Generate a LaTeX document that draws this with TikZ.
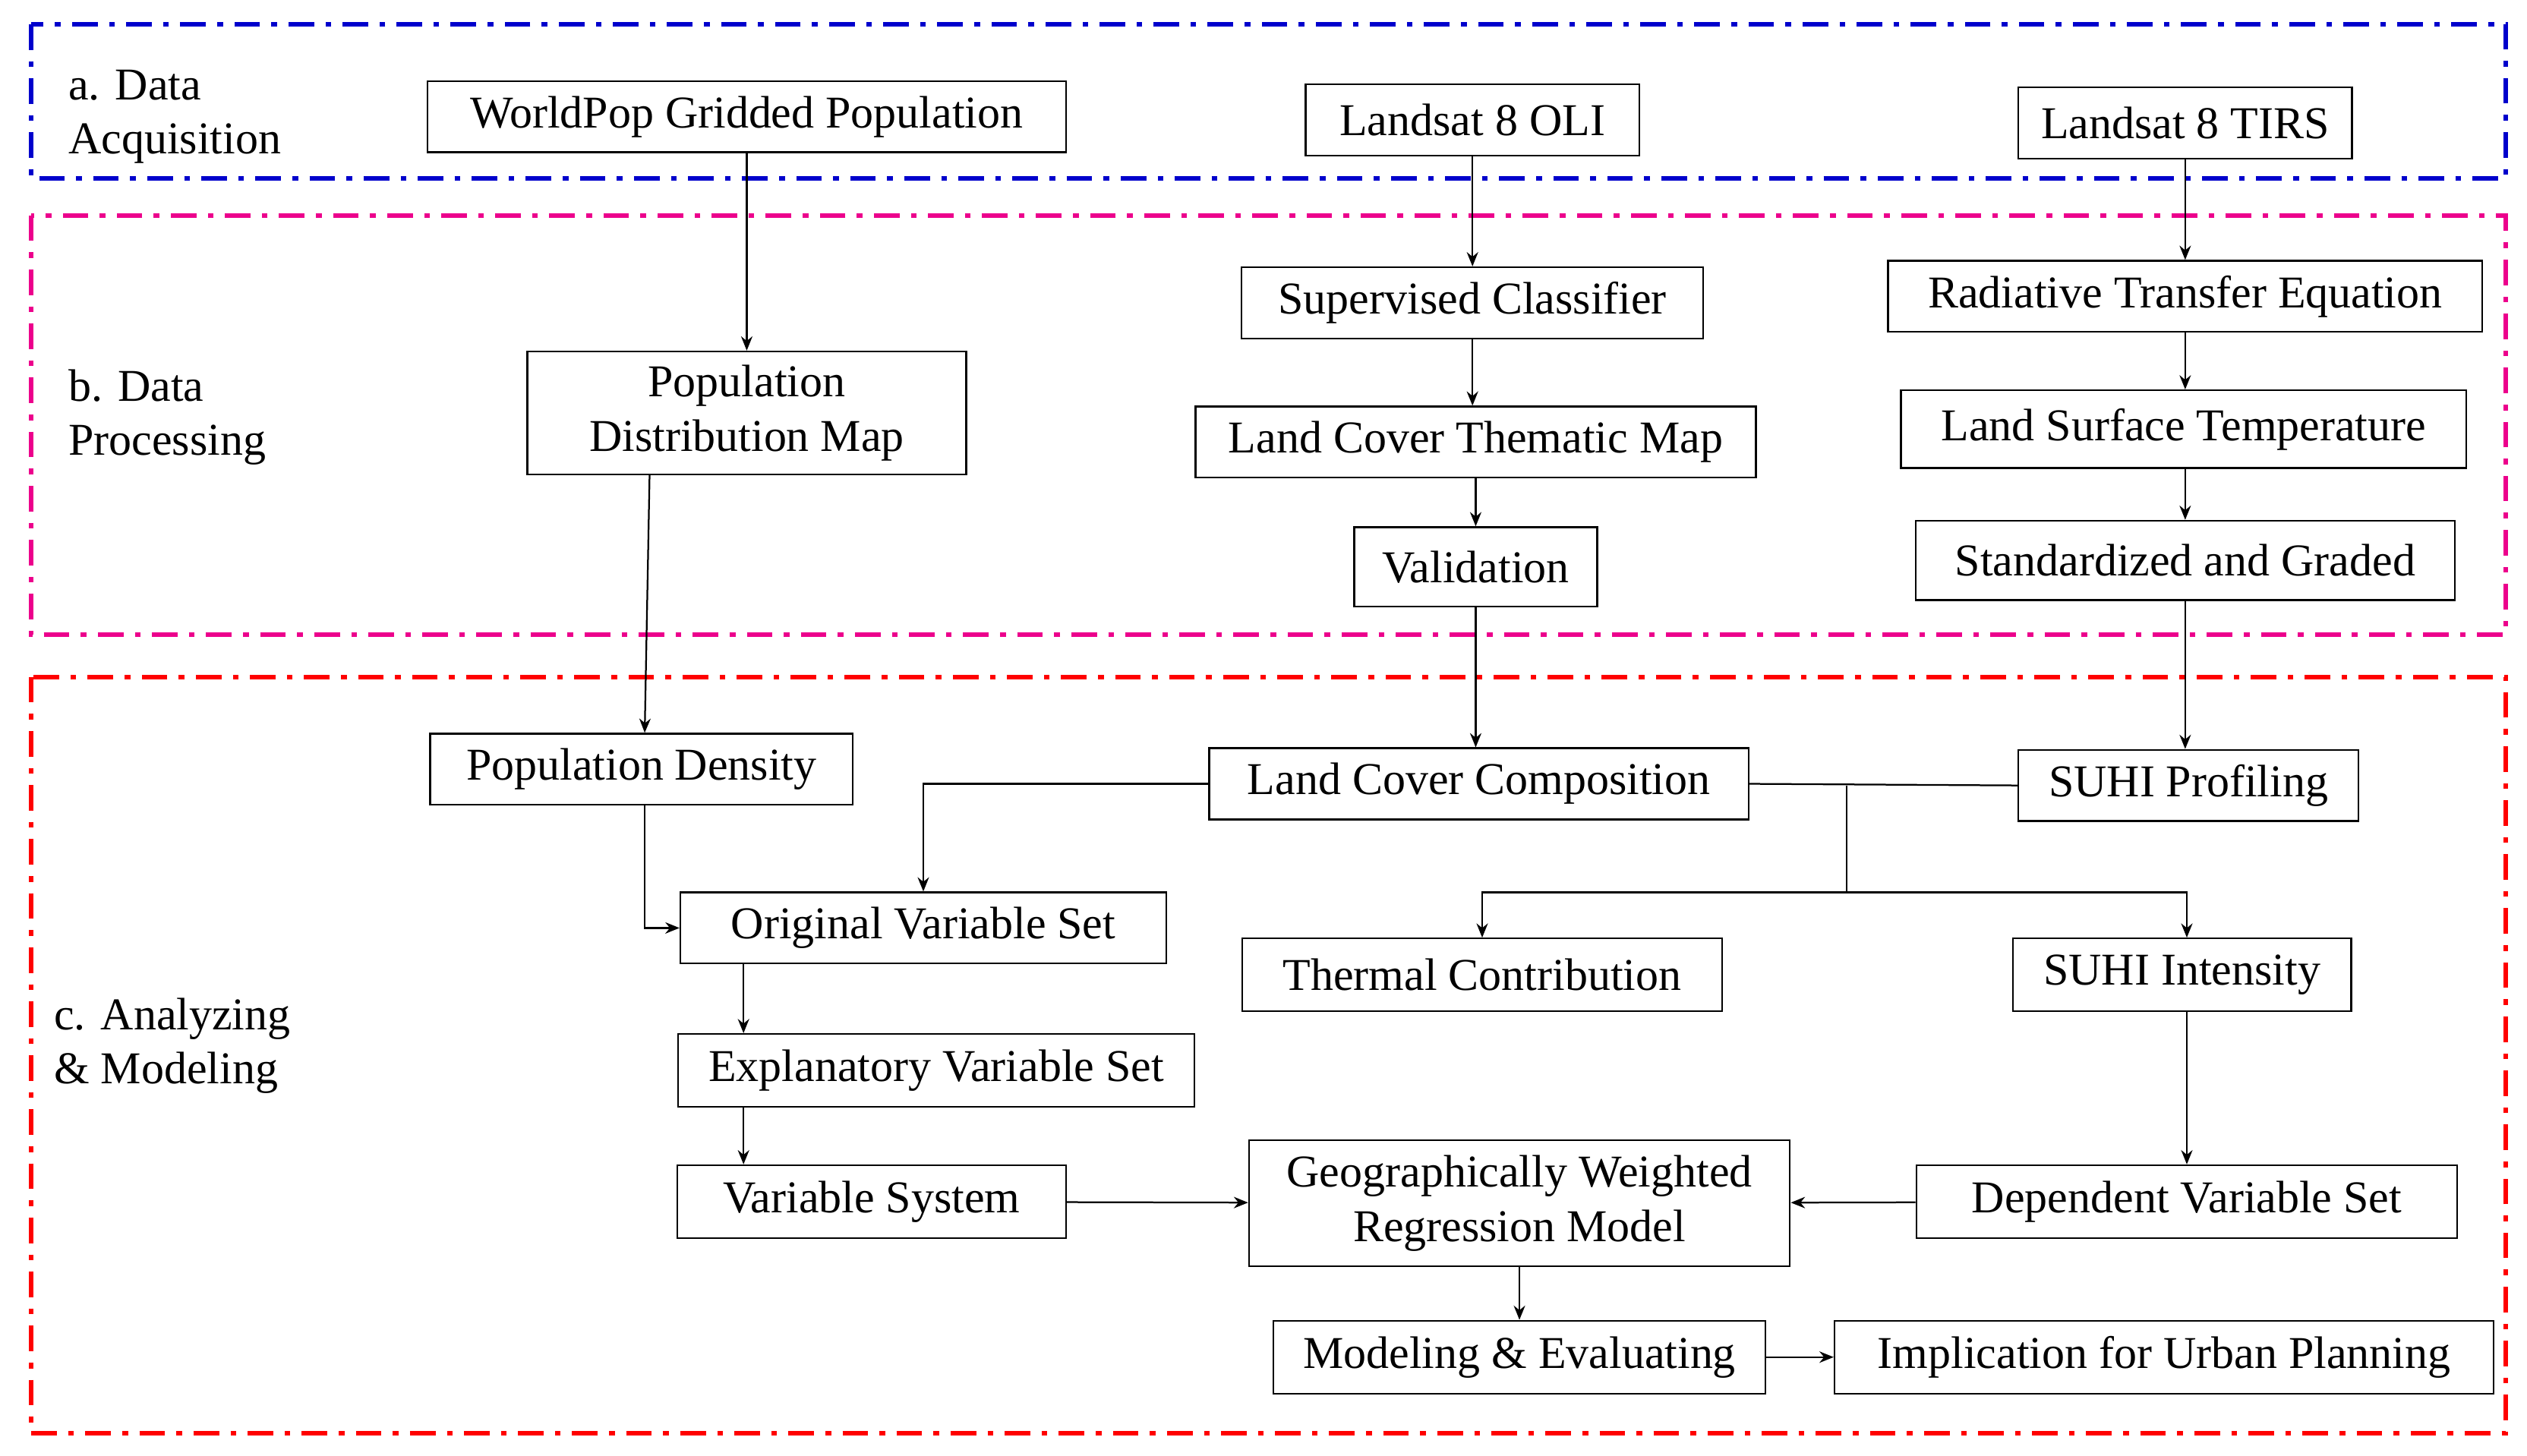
\documentclass[tikz,border=0pt]{standalone}
\usepackage{fontspec}
\setmainfont{Liberation Serif}
\usetikzlibrary{arrows.meta}
\begin{document}
\begin{tikzpicture}[x=0.02cm,y=-0.02cm,
  box/.style={draw,line width=0.6pt,inner sep=0pt,align=center,font=\fontsize{16}{19}\selectfont},
  arr/.style={line width=0.6pt,-{Stealth[length=5pt,width=4pt]}},
  ln/.style={line width=0.6pt},
  frame/.style={line width=1.6pt,dash pattern=on 9pt off 4pt on 2pt off 4pt},
  lab/.style={anchor=north west,align=left,inner sep=0pt,font=\fontsize{16}{19}\selectfont}]
\useasboundingbox (0,0) rectangle (1560,899);
\newcommand{\bx}[6]{\node[box,minimum width={#4*0.02cm},minimum height={#5*0.02cm}] (#1) at (#2,#3) {#6};}
\draw[frame,blue!80!black] (19,15) rectangle (1547,110);
\draw[frame,magenta] (19,133) rectangle (1547,392);
\draw[frame,red] (19,418) rectangle (1547,885);
\node[lab] (la) at (42,43) {a. Data\\Acquisition};
\node[lab] (lb) at (42,228) {b. Data\\Processing};
\node[lab] (lc) at (33,616) {c. Analyzing\\\& Modeling};
\bx{wp}{461}{72}{394}{44}{WorldPop Gridded Population}
\bx{oli}{909}{74}{206}{44}{Landsat 8 OLI}
\bx{tirs}{1349}{76}{206}{44}{Landsat 8 TIRS}
\bx{sc}{909}{187}{285}{44}{Supervised Classifier}
\bx{rte}{1349}{183}{367}{44}{Radiative Transfer Equation}
\bx{pdm}{461}{255}{271}{76}{Population\\Distribution Map}
\bx{lctm}{911}{273}{346}{44}{Land Cover Thematic Map}
\bx{lst}{1348}{265}{349}{48}{Land Surface Temperature}
\bx{val}{911}{350}{150}{49}{Validation}
\bx{sg}{1349}{346}{333}{49}{Standardized and Graded}
\bx{pd}{396}{475}{261}{44}{Population Density}
\bx{lcc}{913}{484}{333}{44}{Land Cover Composition}
\bx{sp}{1351}{485}{210}{44}{SUHI Profiling}
\bx{ovs}{570}{573}{300}{44}{Original Variable Set}
\bx{tc}{915}{602}{296}{45}{Thermal Contribution}
\bx{si}{1347}{602}{209}{45}{SUHI Intensity}
\bx{evs}{578}{661}{319}{45}{Explanatory Variable Set}
\bx{vs}{538}{742}{240}{45}{Variable System}
\bx{gwr}{938}{743}{334}{78}{Geographically Weighted\\Regression Model}
\bx{dvs}{1350}{742}{334}{45}{Dependent Variable Set}
\bx{me}{938}{838}{304}{45}{Modeling \& Evaluating}
\bx{imp}{1336}{838}{407}{45}{Implication for Urban Planning}
\draw[arr] (wp) -- (pdm);
\draw[arr] (pdm.south -| 401,0) -- (pd.north -| 398,0);
\draw[arr] (oli) -- (sc);
\draw[arr] (sc) -- (lctm.north -| sc);
\draw[arr] (lctm) -- (val);
\draw[arr] (val) -- (lcc.north -| val);
\draw[arr] (tirs) -- (rte);
\draw[arr] (rte) -- (lst.north -| rte);
\draw[arr] (lst.south -| rte) -- (sg.north -| rte);
\draw[arr] (sg.south -| rte) -- (sp.north -| rte);
\draw[arr] (pd.south -| 398,0) |- (ovs.west);
\draw[arr] (lcc.west) -| (ovs.north);
\draw[ln] (lcc.east) -- (sp.west);
\coordinate (j) at (1140,485);
\coordinate (k) at (1140,551);
\draw[ln] (j) -- (k);
\draw[arr] (k) -| (tc.north);
\draw[arr] (k) -| (si.north -| 1350,0);
\draw[arr] (ovs.south -| 459,0) -- (evs.north -| 459,0);
\draw[arr] (evs.south -| 459,0) -- (vs.north -| 459,0);
\draw[arr] (vs) -- (gwr);
\draw[arr] (dvs) -- (gwr);
\draw[arr] (si.south -| 1350,0) -- (dvs.north -| 1350,0);
\draw[arr] (gwr) -- (me);
\draw[arr] (me) -- (imp);
\end{tikzpicture}
\end{document}
